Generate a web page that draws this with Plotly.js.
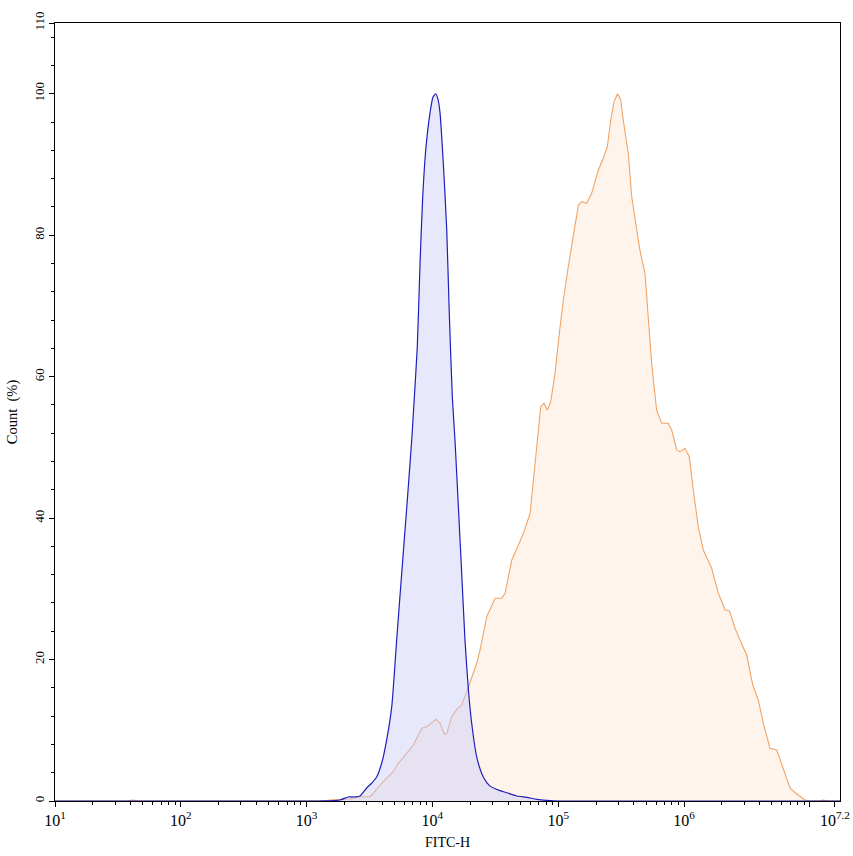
<!DOCTYPE html>
<html>
<head>
<meta charset="utf-8">
<script src="https://cdn.plot.ly/plotly-3.0.1.min.js"></script>
<style>html,body{margin:0;padding:0;background:#fff;}#chart{width:853px;height:856px;}</style>
</head>
<body>
<div id="chart"></div>
<script>
// Blue histogram (control)
const blueX = [10, 1000, 1279, 1843, 2133, 2426, 2657, 3002, 3295, 3604, 3955, 4327, 4749, 5200, 5702, 6258, 6846, 7061, 7582, 7977, 8372, 8897, 9577, 10098, 10623, 11083, 11499, 12208, 13004, 13616, 14404, 15118, 16087, 17096, 18151, 19333, 20526, 22527, 25393, 28716, 34477, 38989, 46811, 56203, 67478, 86213, 103509, 17378000];
const blueY = [0, 0, 0, 0.14, 0.57, 0.57, 0.71, 1.84, 2.54, 3.39, 5.37, 8.62, 13.3, 22.8, 32.2, 41.6, 51.0, 54.9, 64.2, 76.1, 85.4, 92.5, 97.3, 99.5, 100, 99.2, 97.3, 90.2, 80.7, 69.0, 57.1, 51.0, 41.6, 32.2, 22.8, 15.7, 11.0, 6.2, 3.4, 2.1, 1.46, 1.17, 0.71, 0.52, 0.24, 0.04, 0, 0];

// Orange histogram (stained)
const orangeX = [10, 37, 41.7, 46, 1360, 1535, 2212, 2657, 3190, 3386, 3830, 4327, 4882, 5358, 6243, 7061, 8219, 9021, 9868, 10672, 11499, 12435, 13004, 14226, 15613, 17096, 18745, 20526, 22527, 23917, 27047, 31486, 35607, 37839, 42750, 48234, 52936, 59808, 63497, 67634, 72638, 77120, 81954, 87211, 90484, 94313, 103509, 109895, 120220, 131942, 144675, 153742, 168573, 184412, 208543, 228137, 245810, 261577, 277715, 296893, 314054, 328855, 360583, 384068, 415345, 446076, 489567, 510284, 553111, 605641, 624045, 664073, 749236, 798034, 875027, 929874, 1017240, 1101097, 1185293, 1297858, 1423073, 1658167, 1875121, 2120458, 2293136, 2545833, 2785030, 3149413, 3520699, 3896089, 4275903, 4824214, 5462940, 6163463, 6969837, 7881705, 9162569, 10055742, 11600000, 12700000, 14300000, 17378000];
const orangeY = [0, 0, 0.15, 0, 0, 0.14, 0.28, 0.61, 0.61, 1.09, 2.26, 3.21, 4.14, 5.33, 6.74, 7.92, 10.28, 10.5, 11.07, 11.55, 10.99, 9.47, 9.57, 11.92, 12.96, 13.57, 15.45, 17.57, 19.47, 21.35, 26.06, 28.66, 28.66, 29.37, 34.07, 36.19, 37.85, 40.68, 45.38, 50.09, 55.75, 56.23, 55.28, 56.45, 58.11, 60.47, 67.06, 70.83, 75.54, 80.26, 84.26, 84.73, 84.5, 85.92, 89.21, 90.87, 92.51, 96.28, 98.87, 100, 99.11, 96.28, 91.57, 85.44, 81.2, 77.9, 74.61, 69.89, 61.88, 55.28, 54.57, 53.4, 53.4, 52.45, 49.63, 49.39, 49.87, 48.68, 43.97, 38.78, 35.49, 32.9, 29.37, 27.0, 26.91, 24.42, 22.76, 20.64, 16.4, 14.28, 10.99, 7.45, 7.21, 4.38, 1.8, 0.99, 0.14, 0, 0, 0.12, 0, 0];

const xTickVals = [10, 100, 1000, 10000, 100000, 1000000, 10000000, 15848932];
const xTickText = ['10<sup>1</sup>', '10<sup>2</sup>', '10<sup>3</sup>', '10<sup>4</sup>', '10<sup>5</sup>', '10<sup>6</sup>', '', '10<sup>7.2</sup>'];
const yTickVals = [0, 20, 40, 60, 80, 100, 110];
const yTickText = ['0', '20', '40', '60', '80', '100', '110'];

const font = 'Liberation Serif, Times New Roman, serif';

const traces = [
  {
    x: orangeX, y: orangeY, type: 'scatter', mode: 'lines',
    line: {color: '#f0a468', width: 1.1},
    fill: 'tozeroy', fillcolor: 'rgba(252,228,204,0.4)',
    hoverinfo: 'skip', showlegend: false
  },
  {
    x: blueX, y: blueY, type: 'scatter', mode: 'lines',
    line: {color: '#1f1fb8', width: 1.2, shape: 'spline', smoothing: 0.6},
    fill: 'tozeroy', fillcolor: 'rgba(200,200,250,0.42)',
    hoverinfo: 'skip', showlegend: false
  }
];

const layout = {
  width: 853, height: 856,
  margin: {l: 55, r: 13, t: 23, b: 55},
  paper_bgcolor: '#ffffff', plot_bgcolor: '#ffffff',
  font: {family: font, color: '#000', size: 13},
  xaxis: {
    type: 'log', range: [1, 7.24],
    tickmode: 'array', tickvals: xTickVals, ticktext: xTickText,
    tickangle: 0,
    ticklabeloverflow: 'allow',
    ticks: 'outside', ticklen: 5, tickcolor: '#000', tickwidth: 1,
    minor: {dtick: 'D1', ticks: 'outside', ticklen: 3, tickcolor: '#000', tickwidth: 1, showgrid: false},
    showline: true, linecolor: '#000', linewidth: 1, mirror: true,
    showgrid: false, zeroline: false,
    tickfont: {family: font, size: 16, color: '#000'},
    title: {text: 'FITC-H', font: {family: font, size: 14, color: '#000'}, standoff: 8}
  },
  yaxis: {
    range: [0, 110],
    tickmode: 'array', tickvals: yTickVals, ticktext: yTickText,
    ticklabeloverflow: 'allow',
    tickangle: -90,
    ticks: 'outside', ticklen: 5, tickcolor: '#000', tickwidth: 1,
    minor: {dtick: 4, tick0: 0, ticks: 'outside', ticklen: 3, tickcolor: '#000', showgrid: false},
    showline: true, linecolor: '#000', linewidth: 1, mirror: true,
    showgrid: false, zeroline: false,
    tickfont: {family: font, size: 13, color: '#000'},
    title: {text: 'Count  (%)', font: {family: font, size: 14.5, color: '#000'}, standoff: 10}
  }
};

Plotly.newPlot('chart', traces, layout, {displayModeBar: false, staticPlot: true});
</script>
</body>
</html>
